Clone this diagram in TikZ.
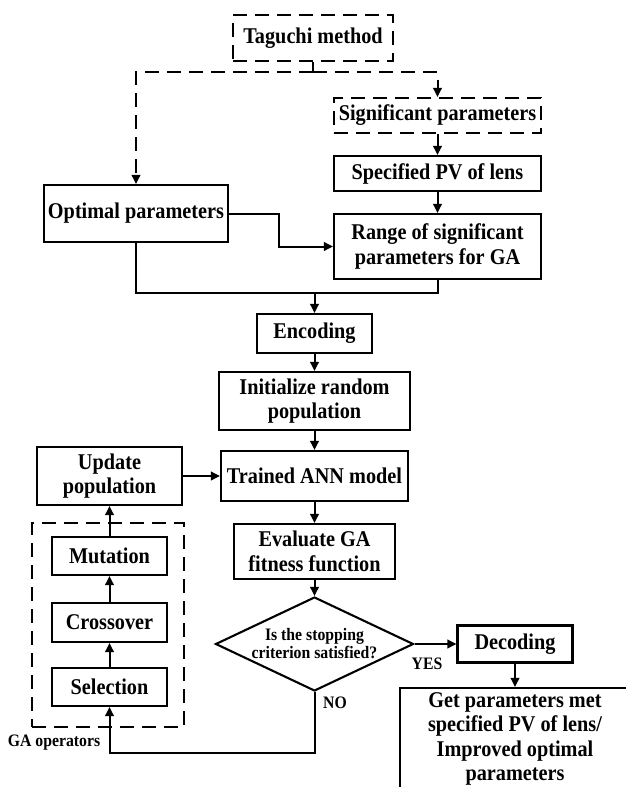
\documentclass[tikz,border=0pt]{standalone}
\usepackage{fontspec}
\setmainfont[FakeStretch=0.9]{Liberation Serif}
\usetikzlibrary{arrows.meta,shapes.geometric}
\newcommand\mainsz{\bfseries\fontsize{22.5}{24.5}\selectfont}
\newcommand\smallsz{\bfseries\fontsize{17.5}{18}\selectfont}
\begin{document}
\begin{tikzpicture}[x=1pt,y=-1pt,
  box/.style={draw, line width=2.1pt, inner sep=0pt, align=center, font=\mainsz},
  dbox/.style={box, dash pattern=on 14pt off 8pt},
  conn/.style={line width=2pt},
  dconn/.style={conn, dash pattern=on 14pt off 8pt},
  arr/.style={conn, -{Triangle[length=9pt,width=8.5pt]}},
  darr/.style={dconn, -{Triangle[length=9pt,width=8.5pt]}},
  lbl/.style={font=\smallsz, inner sep=0pt}]
\fill[white] (0,0) rectangle (625,787);
\useasboundingbox (0,0) rectangle (625,787);

\node[dbox, minimum width=160pt, minimum height=46pt] (tag) at (313,38) {Taguchi method};
\node[dbox, minimum width=207pt, minimum height=35pt] (sig) at (437.5,115.5) {Significant parameters};
\node[box, minimum width=207pt, minimum height=35pt] (spv) at (437.5,173.5) {Specified PV of lens};
\node[box, minimum width=207pt, minimum height=65pt] (rng) at (437.5,246.5) {Range of significant\\parameters for GA};
\node[box, minimum width=184pt, minimum height=57pt] (opt) at (136,213.5) {Optimal parameters};
\node[box, minimum width=115pt, minimum height=39pt] (enc) at (314.5,333.5) {Encoding};
\node[box, minimum width=191pt, minimum height=58pt] (ini) at (314.5,401) {Initialize random\\population};
\node[box, minimum width=187pt, minimum height=50pt] (ann) at (314.5,476) {Trained ANN model};
\node[box, minimum width=145pt, minimum height=58pt] (upd) at (109.5,476) {Update\\population};
\node[box, minimum width=161pt, minimum height=55pt] (eva) at (314.5,551.5) {Evaluate GA\\fitness function};
\node[draw, diamond, line width=2.1pt, inner sep=0pt, aspect=2.1, minimum width=198pt, minimum height=94pt, align=center, font=\smallsz] (dia) at (314.5,644) {Is the stopping\\criterion satisfied?};
\node[box, minimum width=115pt, minimum height=37pt] (dec) at (515,644) {Decoding};
\node[box, minimum width=230pt, minimum height=102pt] (fin) at (515,739) {Get parameters met\\specified PV of lens/\\Improved optimal\\parameters};

\node[dbox, minimum width=152pt, minimum height=204pt] (ga) at (108,625) {};
\node[box, minimum width=115pt, minimum height=38pt] (mut) at (109.5,556) {Mutation};
\node[box, minimum width=115pt, minimum height=39pt] (crs) at (109.5,622.5) {Crossover};
\node[box, minimum width=115pt, minimum height=38pt] (sel) at (109.5,687) {Selection};
\node[lbl] (galbl) at (54,743) {GA operators};
\node[lbl] (yes) at (427,664) {YES};
\node[lbl] (no) at (335,703) {NO};

% dashed connectors from Taguchi
\coordinate (jt) at (313,72);
\coordinate (jl) at (136,72);
\coordinate (jr) at (437.5,72);
\draw[dconn] (tag.south) -- (jt);
\draw[darr] (jt) -- (jr) -- (sig.north);
\draw[darr] (jt) -- (jl) -- (opt.north);

\draw[arr] (sig.south) -- (spv.north);
\draw[arr] (spv.south) -- (rng.north);

\coordinate (b1) at (279,213.5);
\coordinate (b2) at (279,246.5);
\draw[arr] (opt.east) -- (b1) -- (b2) -- (rng.west);

\coordinate (m1) at (136,293);
\coordinate (m2) at (437.5,293);
\coordinate (jm) at (314.5,293);
\draw[conn] (opt.south) -- (m1) -- (m2) -- (rng.south);
\draw[arr] (jm) -- (enc.north);

\draw[arr] (enc.south) -- (ini.north);
\draw[arr] (ini.south) -- (ann.north);
\draw[arr] (ann.south) -- (eva.north);
\draw[arr] (eva.south) -- (dia.north);
\draw[arr] (dia.east) -- (dec.west);
\draw[arr] (dec.south) -- (fin.north);
\draw[arr] (upd.east) -- (ann.west);
\draw[arr] (mut.north) -- (upd.south);
\draw[arr] (crs.north) -- (mut.south);
\draw[arr] (sel.north) -- (crs.south);

\coordinate (n1) at (314.5,753);
\coordinate (n2) at (109.5,753);
\draw[arr] (dia.south) -- (n1) -- (n2) -- (sel.south);
\end{tikzpicture}
\end{document}
